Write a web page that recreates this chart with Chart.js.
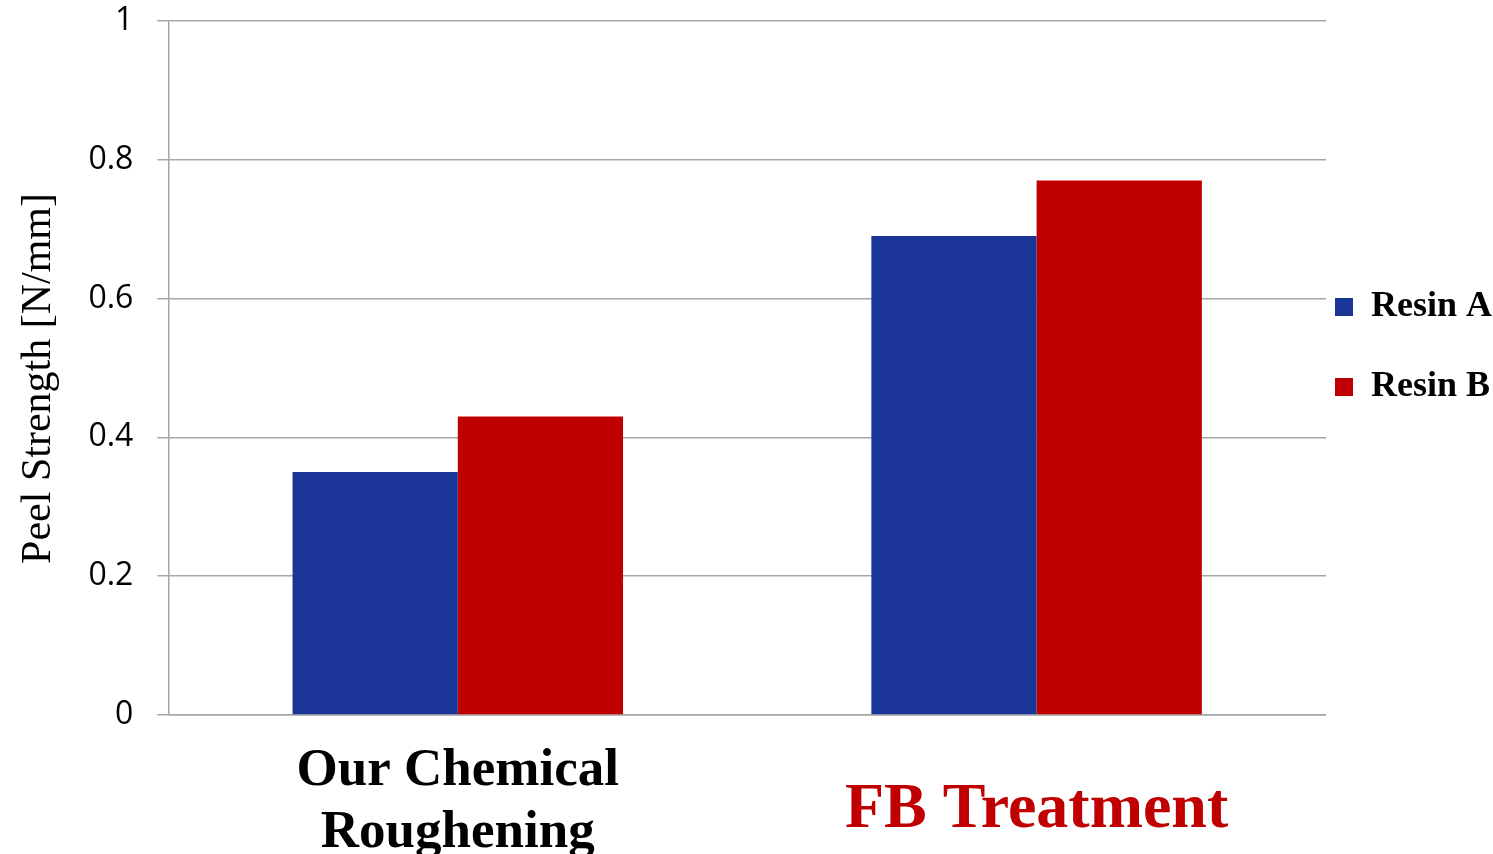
<!DOCTYPE html>
<html>
<head>
<meta charset="utf-8">
<script src="https://cdn.jsdelivr.net/npm/chart.js@4"></script>
<style>
html,body{margin:0;padding:0;background:#fff;overflow:hidden;}
#wrap{width:1493px;height:854px;}
</style>
</head>
<body>
<div id="wrap"><canvas id="c" width="1493" height="854"></canvas></div>
<script>
const categories = [["Our Chemical", "Roughening"], "FB Treatment"];
const seriesNames = ["Resin A", "Resin B"];
const resinA = [0.35, 0.69];
const resinB = [0.43, 0.77];
const yTicks = [0, 0.2, 0.4, 0.6, 0.8, 1];
const catColors = ["#000000", "#c00000"];
const catSizes = [53, 64];
const catLineHeights = [1.17, 2.22];
const barColors = ["#1a3597", "#c00000"];
const gridColor = "#a6a6a6";

const defaultGen = Chart.defaults.plugins.legend.labels.generateLabels;

new Chart(document.getElementById("c"), {
  type: "bar",
  data: {
    labels: categories,
    datasets: [
      { label: seriesNames[0], data: resinA, backgroundColor: barColors[0], borderWidth: 0 },
      { label: seriesNames[1], data: resinB, backgroundColor: barColors[1], borderWidth: 0 }
    ]
  },
  options: {
    responsive: false,
    animation: false,
    layout: { padding: { top: 21, left: 14, right: -9, bottom: -45 } },
    plugins: {
      tooltip: { enabled: false },
      legend: {
        position: "right",
        align: "start",
        title: { display: true, text: "", font: { size: 10, lineHeight: 1 }, padding: { top: 249, bottom: 0 } },
        labels: {
          boxWidth: 18,
          boxHeight: 18,
          padding: 9,
          color: "#000",
          font: { family: "Liberation Serif", size: 36, weight: "bold", lineHeight: 71 / 36 },
          generateLabels: (chart) => defaultGen(chart).map(l => Object.assign({}, l, { text: [l.text] }))
        }
      }
    },
    datasets: { bar: { barPercentage: 1, categoryPercentage: 0.571 } },
    scales: {
      x: {
        grid: { display: false },
        border: { display: true, color: gridColor, width: 1.5 },
        ticks: {
          padding: 17,
          crossAlign: "near",
          maxRotation: 0,
          autoSkip: false,
          color: (ctx) => catColors[ctx.index],
          font: (ctx) => ({ family: "Liberation Serif", size: catSizes[ctx.index], weight: "bold", lineHeight: catLineHeights[ctx.index] })
        }
      },
      y: {
        min: 0,
        max: 1,
        afterBuildTicks: (scale) => { scale.ticks = yTicks.map(v => ({ value: v })); },
        afterFit: (scale) => { scale.paddingTop = 0; scale.paddingBottom = 0; },
        title: {
          display: true,
          text: "Peel Strength [N/mm]  ",
          color: "#000",
          font: { family: "Liberation Serif", size: 42 },
          padding: { top: 0, bottom: 0 }
        },
        grid: { color: gridColor, lineWidth: 1.5, tickLength: 11, drawTicks: true },
        border: { display: true, color: gridColor, width: 1.5 },
        ticks: {
          padding: 24,
          color: "#000",
          font: { family: "Open Sans", size: 32 },
          callback: (v) => String(Math.round(v * 10) / 10)
        }
      }
    }
  }
});
</script>
</body>
</html>
